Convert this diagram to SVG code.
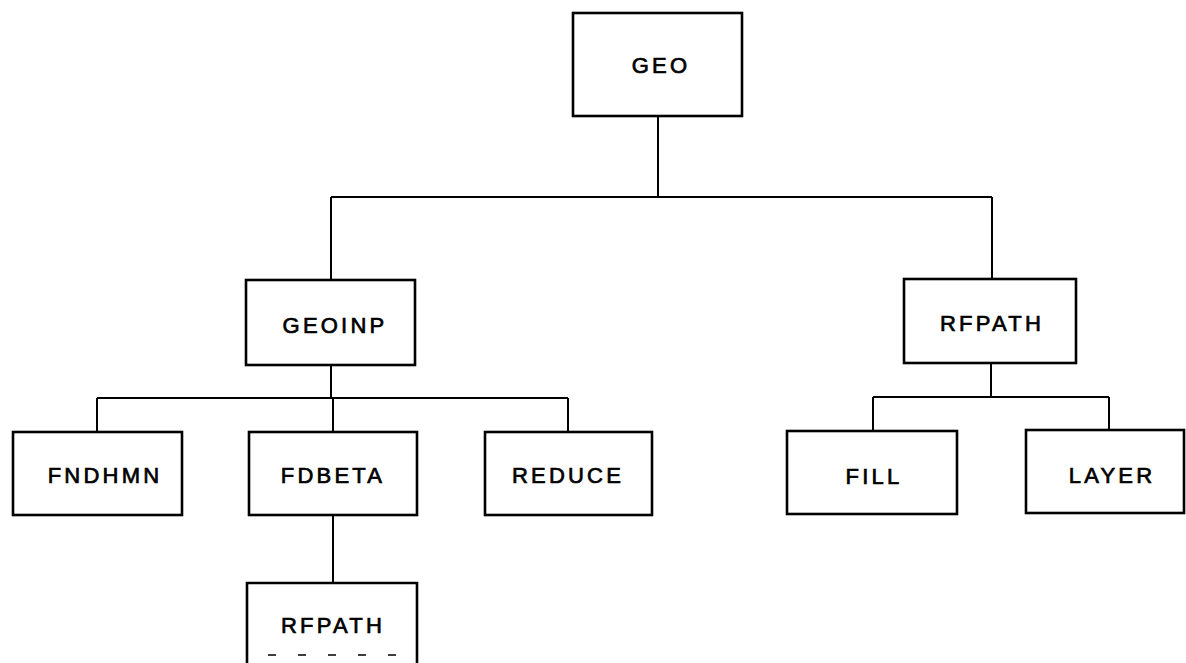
<svg xmlns="http://www.w3.org/2000/svg" width="1186" height="663" viewBox="0 0 1186 663">
<style>
.box{fill:#fff;stroke:#000;stroke-width:2.6}
.lbl{font-family:"Liberation Sans",Arial,sans-serif;font-size:22px;font-weight:normal;letter-spacing:3.2px;fill:#000;stroke:#000;stroke-width:0.7;text-anchor:middle}
.con{fill:none;stroke:#000;stroke-width:2}
</style>
<rect width="1186" height="663" fill="#fff"/>
<g id="connectors">
<path class="con" d="M658,116V197M331,197H992M331,197V280M992,197V279"/>
<path class="con" d="M331,365V398M97,398H568M97,398V432M333,398V432M568,398V432"/>
<path class="con" d="M333,515V583"/>
<path class="con" d="M991,363V397M873,397H1109M873,397V431M1109,397V430"/>
</g>
<g id="geo"><rect class="box" x="573" y="13" width="169" height="103"/><text class="lbl" x="661" y="73">GEO</text></g>
<g id="geoinp"><rect class="box" x="246" y="280" width="169" height="85"/><text class="lbl" x="335" y="333">GEOINP</text></g>
<g id="rfpath1"><rect class="box" x="904" y="279" width="172" height="84"/><text class="lbl" x="992" y="331">RFPATH</text></g>
<g id="fndhmn"><rect class="box" x="13" y="432" width="169" height="83"/><text class="lbl" x="105" y="483">FNDHMN</text></g>
<g id="fdbeta"><rect class="box" x="249" y="432" width="168" height="83"/><text class="lbl" x="333" y="483">FDBETA</text></g>
<g id="reduce"><rect class="box" x="485" y="432" width="167" height="83"/><text class="lbl" x="568" y="483">REDUCE</text></g>
<g id="fill"><rect class="box" x="787" y="431" width="170" height="83"/><text class="lbl" x="874" y="484">FILL</text></g>
<g id="layer"><rect class="box" x="1026" y="430" width="158" height="83"/><text class="lbl" x="1112" y="483">LAYER</text></g>
<g id="rfpath2">
<path class="box" d="M247,663V583H417V663"/>
<path fill="none" stroke="#000" stroke-width="1.6" stroke-dasharray="8,22" d="M268,655H417"/>
<text class="lbl" x="333" y="633">RFPATH</text>
</g>
</svg>
